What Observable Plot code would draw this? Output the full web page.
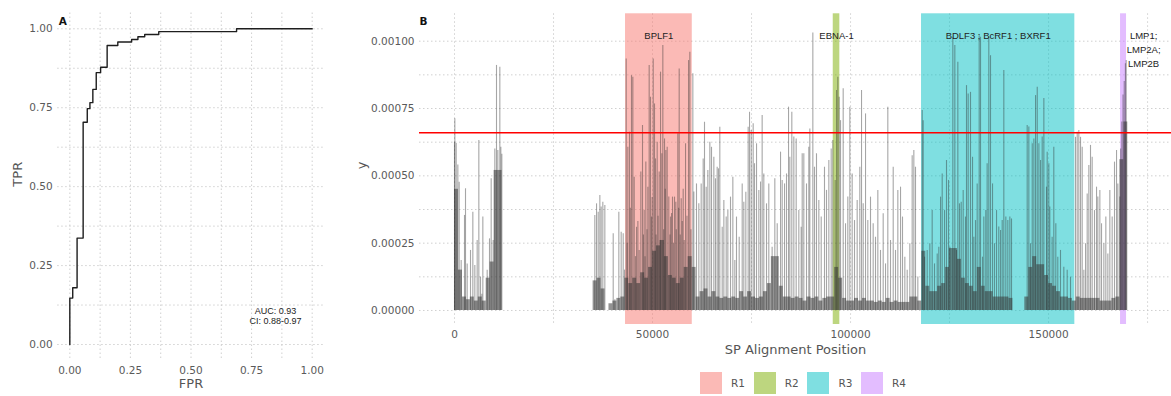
<!DOCTYPE html>
<html><head><meta charset="utf-8">
<script src="https://cdn.jsdelivr.net/npm/d3@7"></script>
<script src="https://cdn.jsdelivr.net/npm/@observablehq/plot@0.6"></script>
<style>
body{margin:0;background:#fff;}
#wrap{position:relative;width:1171px;height:396px;overflow:hidden;font-family:"DejaVu Sans",sans-serif;background:#fff;}
#a{position:absolute;left:0;top:0;}
#b{position:absolute;left:340px;top:0;}
#legend{position:absolute;left:700px;top:372px;display:flex;}
.item{display:flex;align-items:center;width:53.7px;}
.sw{width:22px;height:22px;}
.lab{margin-left:9px;font-size:10.5px;color:#555;}
</style></head><body>
<div id="wrap"><div id="a"></div><div id="b"></div><div id="legend"></div></div>
<script>
// ---------- Panel A: ROC ----------
const rocFPR = [0, 0, 0.012, 0.030, 0.055, 0.072, 0.083, 0.095, 0.109, 0.127, 0.154, 0.198, 0.255, 0.281, 0.309, 0.367, 0.688, 1.0];
const rocTPR = [0, 0.147, 0.180, 0.337, 0.704, 0.747, 0.766, 0.808, 0.861, 0.878, 0.947, 0.958, 0.966, 0.975, 0.982, 0.991, 1.0, 1.0];
const aucLabel = "AUC: 0.93\nCI: 0.88-0.97";
const rocTicks = [0, 0.25, 0.5, 0.75, 1];
const rocGrid = [0, 0.125, 0.25, 0.375, 0.5, 0.625, 0.75, 0.875, 1];

// ---------- Panel B: SP alignment ----------
const regionName = ["R1", "R2", "R3", "R4"];
const regionColor = ["#F8766D", "#7CAE00", "#00BFC4", "#C77CFF"];
const regionStart = [43180, 95630, 117920, 168170];
const regionEnd = [60030, 97290, 156630, 169680];
const regionGene = ["BPLF1", "EBNA-1", "BDLF3 ; BcRF1 ; BXRF1", "LMP1;\nLMP2A;\nLMP2B"];
const regionLabelPos = [51600, 96460, 137275, 174000];
const threshold = 0.00066;

// spike positions (bp) and heights (in 1e-6 units)
const spikePos = [0,84,421,842,1178,1683,2525,2778,3198,4040,4629,5134,5723,6144,6565,6901,7154,8248,8838,9258,9763,10184,10605,10941,11446,11699,11951,
35430,35860,36280,36700,37030,37450,37960,40070,40490,41490,42080,42590,42930,
43350,43600,43770,44190,44400,44690,45030,45370,45700,45960,46300,46630,47050,47470,47700,47890,48100,48310,48600,48820,49150,49490,49740,49900,50170,50500,50750,50900,51170,51400,51680,51900,52020,52350,52600,52800,53030,53200,53360,53700,54110,54400,54540,54800,55040,55300,55550,55880,56000,56390,56600,56730,57000,57240,57500,57740,58000,58330,58700,59090,59420,59700,60180,
60430,61100,61690,62280,62790,63125,63550,63970,64470,64890,65480,65900,66320,66660,66990,67590,68010,68600,69020,69690,70280,70780,71200,71880,72640,73050,73560,74150,74490,74910,75410,75750,76260,76840,77270,77680,78100,78780,79360,80200,80880,81480,82320,82740,83330,83830,84340,84670,85170,85680,86270,86940,87530,87790,88200,88880,89460,89720,
90480,90900,91400,91990,92590,93420,93930,94520,95110,95530,96120,96460,96790,97130,97470,98140,98730,99310,99820,100410,101000,101670,102340,102770,103190,103780,104360,105040,105710,106300,106890,107560,108240,108830,109410,110090,110770,111350,111940,112620,113120,113710,114300,114970,115560,115980,116400,116990,
118090,118340,118680,119350,120020,120610,121200,121880,122290,122720,123140,123730,124230,124740,125070,125830,126330,126760,127090,127510,127940,128440,129020,129280,129700,130290,130800,131130,131550,131970,132480,132820,133320,133650,134150,134490,134910,135340,135850,136350,136860,137430,137870,138290,138700,139210,139710,140220,140640,
144600,145020,145440,145870,146290,146710,147140,147560,147970,148390,148810,149480,149650,150070,150310,150900,151320,151830,152330,153010,153850,154700,155540,
156800,157230,157640,158070,158490,158910,159330,159750,160170,160590,161010,161600,162110,162440,162950,163370,163960,164460,164970,165470,166060,166650,167160,167490,167990,168200,168500,168800,169100,169400,169600];
const spikeValE6 = [625,712,620,540,476,186,353,452,173,223,365,167,260,631,124,60,347,149,266,489,260,600,910,594,903,606,580,
353,396,365,427,384,402,390,285,40,365,291,285,150,
934,250,606,662,380,872,866,495,200,309,330,223,514,687,280,371,200,551,300,458,910,792,347,420,934,767,563,280,625,350,514,260,885,582,984,300,637,450,594,606,421,280,347,360,421,250,421,402,300,656,380,897,280,415,330,450,260,619,350,928,959,300,879,
440,470,396,470,563,699,458,520,625,606,569,489,532,526,680,309,408,347,371,421,495,186,347,272,470,402,439,680,736,668,693,545,619,446,477,724,507,396,470,235,489,322,588,483,470,507,755,569,736,644,637,371,309,582,582,470,606,674,
1030,532,582,408,347,532,446,557,600,631,483,817,866,792,705,823,322,421,755,507,334,408,532,817,396,730,334,421,322,272,446,223,359,173,755,260,532,223,446,458,347,198,149,248,575,594,532,124,
743,705,198,223,248,371,173,210,235,421,507,371,557,483,235,1015,984,223,922,396,402,446,347,835,804,810,569,272,334,470,1020,1015,198,347,371,545,1015,946,470,248,371,310,297,334,891,347,334,347,340,
687,681,248,619,637,798,829,619,557,644,787,458,588,545,384,272,606,322,198,223,161,149,124,
643,662,668,643,606,149,248,433,538,613,569,371,458,421,446,322,248,347,210,446,347,551,594,470,421,600,700,800,850,916,928];

// dense low band: height (1e-6 units) per 1-kb window, starting at 0 bp
const baseWindow = 1000;
const baseValE6 = [450,150,50,40,50,35,50,35,120,180,520,520,
0,0,0,0,0,0,0,0,0,0,0,0,0,0,0,0,0,0,0,0,0,0,0,
110,120,80,0,25,35,45,50,
120,100,120,100,140,120,160,220,240,260,200,130,120,100,120,160,200,160,
50,70,80,50,70,50,45,50,45,50,45,70,50,70,50,45,50,70,100,200,200,90,50,50,45,50,45,35,50,45,50,35,45,50,50,
160,120,45,35,35,45,35,45,35,35,30,35,30,45,30,35,30,30,30,50,50,35,
220,90,70,70,90,100,160,230,230,190,120,100,90,70,160,90,70,70,50,50,50,50,45,
0,0,0,
50,160,200,170,170,130,100,90,70,50,50,45,35,50,45,45,45,45,45,35,35,35,45,50,
560,700];

const bxTicks = [0, 50000, 100000, 150000];
const bxGrid = [0, 25000, 50000, 75000, 100000, 125000, 150000, 175000];
const byTicks = [0, 0.00025, 0.0005, 0.00075, 0.001];
const byGrid = [0, 0.000125, 0.00025, 0.000375, 0.0005, 0.000625, 0.00075, 0.000875, 0.001];

// ---------- build ----------
const gridStyle = {stroke: "#c4c4c4", strokeOpacity: 1, strokeDasharray: "1.5,2.5", strokeWidth: 0.8};
const baseStyle = {fontFamily: "DejaVu Sans", fontSize: "10.5px", color: "#5a5a5a", background: "white", overflow: "visible"};

const roc = rocFPR.map((x, i) => ({fpr: x, tpr: rocTPR[i]}));
const plotA = Plot.plot({
  width: 330, height: 396,
  marginLeft: 57.2, marginRight: 6.2, marginTop: 12.5, marginBottom: 36.2,
  style: baseStyle,
  x: {domain: [-0.05, 1.05]},
  y: {domain: [-0.05, 1.05]},
  marks: [
    Plot.gridX(rocGrid, gridStyle),
    Plot.gridY(rocGrid, gridStyle),
    Plot.axisX(rocTicks, {tickSize: 0, tickPadding: 6, tickFormat: d => d.toFixed(2), label: null}),
    Plot.axisY(rocTicks, {tickSize: 0, tickPadding: 5, tickFormat: d => d.toFixed(2), label: null}),
    Plot.line(roc, {x: "fpr", y: "tpr", curve: "step-after", stroke: "#1e1e1e", strokeWidth: 1.4}),
    Plot.text([aucLabel], {frameAnchor: "bottom-right", dx: -48.8, dy: -36.5, fontFamily: "Liberation Sans", fontSize: 9, fill: "#222", lineHeight: 1.1, textAnchor: "middle"}),
    Plot.text(["FPR"], {frameAnchor: "bottom", dy: 28, fontSize: 13, fill: "#555"}),
    Plot.text(["TPR"], {frameAnchor: "left", dx: -40, rotate: -90, fontSize: 13, fill: "#555"}),
    Plot.text(["A"], {frameAnchor: "top-left", dx: 1, dy: 4.5, textAnchor: "start", fontWeight: "bold", fontSize: 10.5, fill: "#111"})
  ]
});
document.getElementById("a").append(plotA);

const regions = regionName.map((n, i) => ({name: n, start: regionStart[i], end: regionEnd[i], gene: regionGene[i], labelPos: regionLabelPos[i]}));
const spikes = spikePos.map((p, i) => ({pos: p, v: spikeValE6[i] / 1e6}));
const base = baseValE6.map((v, i) => ({x1: i * baseWindow, x2: (i + 1) * baseWindow, v: v / 1e6})).filter(d => d.v > 0);

const plotB = Plot.plot({
  width: 831, height: 362,
  marginLeft: 79, marginRight: 0, marginTop: 13.3, marginBottom: 38,
  style: baseStyle,
  x: {domain: [-8840, 181040]},
  y: {domain: [-0.000052, 0.0011017]},
  color: {domain: regionName, range: regionColor},
  marks: [
    Plot.gridX(bxGrid, gridStyle),
    Plot.gridY(byGrid, gridStyle),
    Plot.rect(regions, {x1: "start", x2: "end", fill: "name", fillOpacity: 0.5}),
    Plot.rectY(base, {x1: "x1", x2: "x2", y: "v", fill: "#3a3a3a", fillOpacity: 0.55}),
    Plot.ruleX(spikes, {x: "pos", y1: 0, y2: "v", stroke: "#2b2b2b", strokeOpacity: 0.42, strokeWidth: 1.1}),
    Plot.ruleY([threshold], {stroke: "#ff0000", strokeWidth: 1.3}),
    Plot.text(regions, {x: "labelPos", text: "gene", frameAnchor: "top", lineAnchor: "top", dy: 15, lineHeight: 1.5, fontFamily: "Liberation Sans", fontSize: 9.5, fill: "#222"}),
    Plot.axisX(bxTicks, {tickSize: 0, tickPadding: 6, tickFormat: d => String(d), label: null}),
    Plot.axisY(byTicks, {tickSize: 0, tickPadding: 5, tickFormat: d => d.toFixed(5), label: null}),
    Plot.text(["SP Alignment Position"], {frameAnchor: "bottom", dy: 29, fontSize: 13, fill: "#555"}),
    Plot.text(["y"], {frameAnchor: "left", dx: -58, rotate: -90, fontSize: 13, fill: "#555"}),
    Plot.text(["B"], {frameAnchor: "top-left", dx: 0, dy: 4, textAnchor: "start", fontWeight: "bold", fontSize: 10.5, fill: "#111"})
  ]
});
document.getElementById("b").append(plotB);

// legend
const leg = document.getElementById("legend");
regionName.forEach((n, i) => {
  const item = document.createElement("div"); item.className = "item";
  const sw = document.createElement("div"); sw.className = "sw";
  sw.style.background = regionColor[i]; sw.style.opacity = 0.5;
  const lab = document.createElement("span"); lab.className = "lab"; lab.textContent = n;
  item.append(sw, lab); leg.append(item);
});
</script>
</body></html>
